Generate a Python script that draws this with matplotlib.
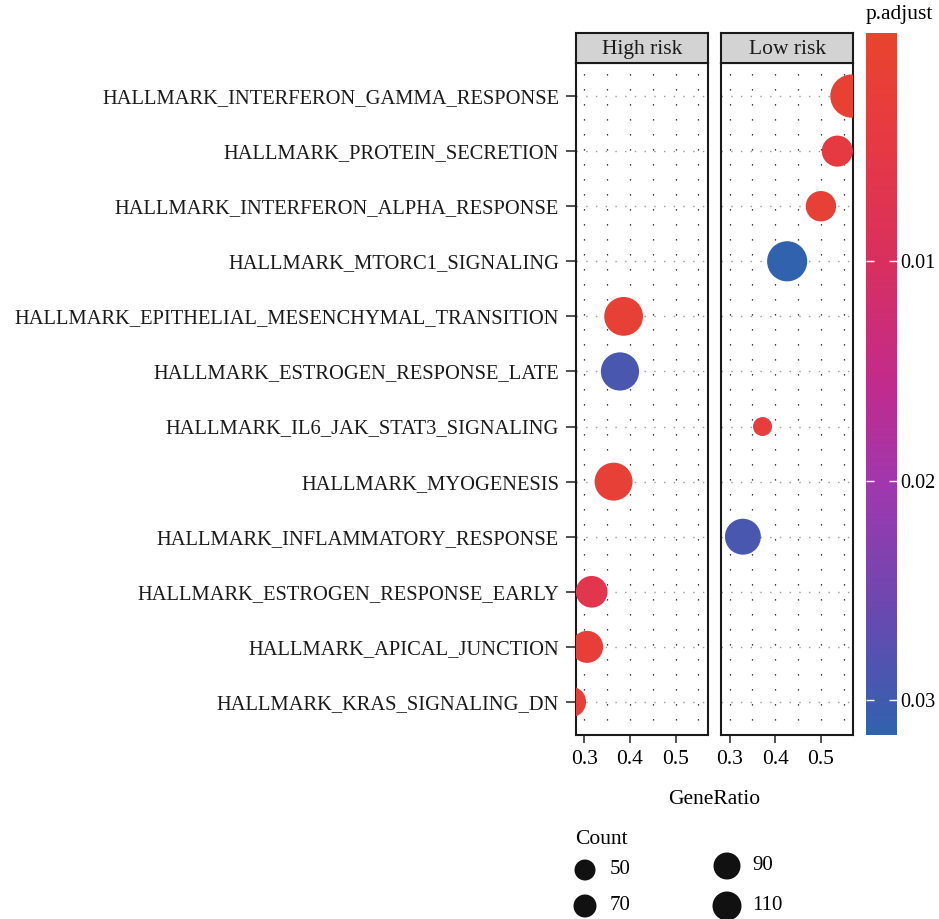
import numpy as np
import matplotlib.pyplot as plt
from matplotlib.colors import LinearSegmentedColormap, Normalize
from matplotlib.cm import ScalarMappable

plt.rcParams['font.family'] = ['Liberation Serif', 'DejaVu Serif']

# terms, top to bottom
terms = ['HALLMARK_INTERFERON_GAMMA_RESPONSE', 'HALLMARK_PROTEIN_SECRETION',
         'HALLMARK_INTERFERON_ALPHA_RESPONSE', 'HALLMARK_MTORC1_SIGNALING',
         'HALLMARK_EPITHELIAL_MESENCHYMAL_TRANSITION', 'HALLMARK_ESTROGEN_RESPONSE_LATE',
         'HALLMARK_IL6_JAK_STAT3_SIGNALING', 'HALLMARK_MYOGENESIS',
         'HALLMARK_INFLAMMATORY_RESPONSE', 'HALLMARK_ESTROGEN_RESPONSE_EARLY',
         'HALLMARK_APICAL_JUNCTION', 'HALLMARK_KRAS_SIGNALING_DN']

groups = ['High risk', 'Low risk']

# High risk
high_terms = ['HALLMARK_EPITHELIAL_MESENCHYMAL_TRANSITION', 'HALLMARK_ESTROGEN_RESPONSE_LATE',
              'HALLMARK_MYOGENESIS', 'HALLMARK_ESTROGEN_RESPONSE_EARLY',
              'HALLMARK_APICAL_JUNCTION', 'HALLMARK_KRAS_SIGNALING_DN']
high_ratio = [0.386, 0.378, 0.364, 0.316, 0.306, 0.270]
high_count = [101, 99, 98, 77, 78, 74]
high_padj = [0.0015, 0.029, 0.0015, 0.0065, 0.002, 0.002]

# Low risk
low_terms = ['HALLMARK_INTERFERON_GAMMA_RESPONSE', 'HALLMARK_PROTEIN_SECRETION',
             'HALLMARK_INTERFERON_ALPHA_RESPONSE', 'HALLMARK_MTORC1_SIGNALING',
             'HALLMARK_IL6_JAK_STAT3_SIGNALING', 'HALLMARK_INFLAMMATORY_RESPONSE']
low_ratio = [0.568, 0.536, 0.500, 0.426, 0.372, 0.329]
low_count = [118, 75, 73, 106, 42, 91]
low_padj = [0.001, 0.0045, 0.0015, 0.0316, 0.003, 0.029]

legend_counts = [50, 70, 90, 110]

cbar_lo, cbar_hi = -0.0004, 0.0316
cmap = LinearSegmentedColormap.from_list('padj', [
    (0.0, '#E8442E'), (0.15, '#E63A42'), (0.32, '#D8305E'),
    (0.5, '#C12B8C'), (0.65, '#9E38AE'), (0.82, '#6B48AF'), (1.0, '#3162AE')])
norm = Normalize(vmin=cbar_lo, vmax=cbar_hi)


def dia_px(c):
    return -17.0 + 5.55 * np.sqrt(np.asarray(c, float))


def s_of(c):
    return (dia_px(c) * 0.72) ** 2


W, H = 939, 919
fig = plt.figure(figsize=(W / 100, H / 100), dpi=100)


def fx(px):
    return px / W


def fy(px):
    return 1 - px / H


ypos = {t: len(terms) - 1 - i for i, t in enumerate(terms)}
panel_left = [575.7, 721]
pw = 132.3
top, bot = 63, 735
xlim = (0.281, 0.571)
grid_x = [0.3, 0.35, 0.4, 0.45, 0.5, 0.55]

data = [(high_terms, high_ratio, high_count, high_padj),
        (low_terms, low_ratio, low_count, low_padj)]

for k, g in enumerate(groups):
    ax = fig.add_axes([fx(panel_left[k]), fy(bot), pw / W, (bot - top) / H])
    ax.set_xlim(*xlim)
    ax.set_ylim(-0.6, len(terms) - 0.4)
    for gx in grid_x:
        ax.axvline(gx, color='black', lw=0.9, ls=(0, (1, 11)), zorder=0)
    for yy in range(len(terms)):
        ax.axhline(yy, color='#999999', lw=1.0, ls=(0, (1, 6)), zorder=0)
    tl, r, c, p = data[k]
    ax.scatter(r, [ypos[t] for t in tl], s=s_of(c), c=p, cmap=cmap, norm=norm,
               edgecolors='none', zorder=3)
    ax.set_xticks([0.3, 0.4, 0.5])
    ax.set_xticklabels(['0.3', '0.4', '0.5'], fontsize=15.5)
    ax.tick_params(axis='x', length=6, width=1.2, color='#333333', pad=5)
    ax.set_yticks(range(len(terms)))
    if k == 0:
        ax.set_yticklabels([terms[len(terms) - 1 - i] for i in range(len(terms))],
                           fontsize=14.8, color='#1a1a1a')
        ax.tick_params(axis='y', length=7, width=1.2, color='#333333', pad=5)
    else:
        ax.set_yticklabels([])
        ax.tick_params(axis='y', length=0)
    for sp in ax.spines.values():
        sp.set_linewidth(1.5)
        sp.set_color('#1a1a1a')
    # strip
    sax = fig.add_axes([fx(panel_left[k]), fy(top), pw / W, 30 / H])
    sax.set_facecolor('#D3D3D3')
    sax.set_xticks([])
    sax.set_yticks([])
    for sp in sax.spines.values():
        sp.set_linewidth(1.5)
        sp.set_color('#1a1a1a')
    sax.text(0.5, 0.45, g, ha='center', va='center', fontsize=15.5,
             color='#1a1a1a', transform=sax.transAxes)

fig.text(fx(714), fy(800), 'GeneRatio', ha='center', va='center', fontsize=15.5)

# colorbar
cax = fig.add_axes([fx(866), fy(735), 31 / W, (735 - 33) / H])
cb = fig.colorbar(ScalarMappable(norm=norm, cmap=cmap), cax=cax)
cb.outline.set_visible(False)
cax.invert_yaxis()
cb.set_ticks([0.01, 0.02, 0.03])
cb.set_ticklabels(['0.01', '0.02', '0.03'])
cax.tick_params(direction='in', color='white', length=6, width=1,
                left=True, right=True, labelsize=14.5, pad=-2)
for lab in cax.get_yticklabels():
    lab.set_x(1.2)
fig.text(fx(866), fy(14), 'p.adjust', ha='left', va='center', fontsize=15.5)

# size legend
fig.text(fx(575), fy(840), 'Count', ha='left', va='center', fontsize=15.5)
leg_x = [585, 585, 727, 727]
leg_y = [870, 906, 866, 906]
leg_d = [21, 23, 27, 29]
lax = fig.add_axes([0, 0, 1, 1], facecolor='none')
lax.set_xlim(0, W)
lax.set_ylim(H, 0)
lax.axis('off')
lax.scatter(leg_x, leg_y, s=[(d * 0.72) ** 2 for d in leg_d], color='#111111',
            edgecolors='none')
for xx, yy, cnt in zip(leg_x, leg_y, legend_counts):
    lax.text(xx + 25, yy, str(cnt), ha='left', va='center', fontsize=15)

fig.savefig('out.png', dpi=100)
